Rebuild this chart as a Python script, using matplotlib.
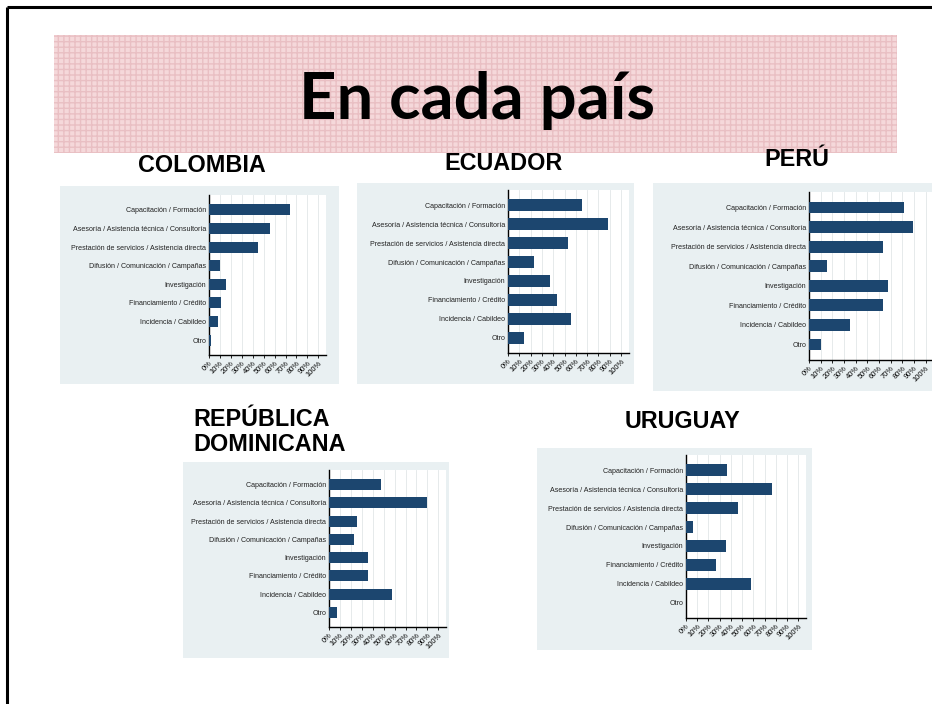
import numpy as np
import matplotlib
matplotlib.use("Agg")
import matplotlib.pyplot as plt
from matplotlib.patches import Rectangle
from matplotlib.ticker import MultipleLocator, FuncFormatter

# categories (top to bottom)
categories = [
    "Capacitación / Formación",
    "Asesoría / Asistencia técnica / Consultoría",
    "Prestación de servicios / Asistencia directa",
    "Difusión / Comunicación / Campañas",
    "Investigación",
    "Financiamiento / Crédito",
    "Incidencia / Cabildeo",
    "Otro",
]

# share of organisations per category, per country
colombia = [0.74, 0.56, 0.45, 0.10, 0.16, 0.11, 0.08, 0.02]
ecuador = [0.65, 0.88, 0.53, 0.23, 0.37, 0.43, 0.56, 0.14]
peru = [0.81, 0.89, 0.63, 0.15, 0.68, 0.63, 0.35, 0.10]
rep_dominicana = [0.48, 0.90, 0.26, 0.23, 0.36, 0.36, 0.58, 0.07]
uruguay = [0.37, 0.77, 0.46, 0.06, 0.36, 0.27, 0.58, 0.0]

country_names = ["COLOMBIA", "ECUADOR", "PERÚ", "REPÚBLICA\nDOMINICANA", "URUGUAY"]
country_values = [colombia, ecuador, peru, rep_dominicana, uruguay]

W, H = 932, 704
BAR = "#1c466f"
PANEL_BG = "#e9f0f2"

# layout in pixels: box (x0, y0, x1, y1), axes (x0, x1, y_top, y_bottom), title (x, y, ha)
layout = [
    ((60, 186, 339, 384), (209, 326, 195, 355), (202, 165, "center")),
    ((357, 183, 634, 384), (508, 629, 190, 353), (503, 163, "center")),
    ((653, 183, 932, 391), (809, 934, 192, 360), (797, 160, "center")),
    ((183, 462, 449, 658), (329, 446, 470, 627), (193, 432, "left")),
    ((537, 448, 812, 650), (686, 806, 455, 618), (683, 421, "center")),
]

fig = plt.figure(figsize=(W / 100, H / 100), dpi=100)

# background layer in pixel coordinates
bg = fig.add_axes([0, 0, 1, 1])
bg.set_xlim(0, W)
bg.set_ylim(H, 0)
bg.axis("off")

# slide frame
bg.plot([7, W + 5], [7, 7], color="black", lw=2.2, solid_capstyle="butt")
bg.plot([7, 7], [7, H + 5], color="black", lw=2.2, solid_capstyle="butt")

# hatched pink title band
bg.add_patch(Rectangle((54, 35), 843, 118, facecolor="#f5d8da", edgecolor="none"))
bg.add_patch(Rectangle((54, 35), 843, 118, facecolor="none", edgecolor="#e9bfc3",
                       hatch="+++", lw=0))
bg.text(477, 100, "En cada país", ha="center", va="center", fontsize=47,
        fontweight="bold", family="Lato", color="black")

for (box, ax_px, title), name, vals in zip(layout, country_names, country_values):
    bx0, by0, bx1, by1 = box
    bg.add_patch(Rectangle((bx0, by0), bx1 - bx0, by1 - by0, facecolor=PANEL_BG,
                           edgecolor="none"))
    tx, ty, ha = title
    bg.text(tx, ty, name, ha=ha, va="center", fontsize=16.8, fontweight="bold",
            family="Liberation Sans", linespacing=1.1)

    ax0, ax1, ay0, ay1 = ax_px
    ax = fig.add_axes([ax0 / W, 1 - ay1 / H, (ax1 - ax0) / W, (ay1 - ay0) / H])
    y = np.arange(len(categories))
    ax.barh(y, vals, height=0.6, color=BAR, zorder=3)
    ax.set_xlim(0, 1.07)
    ax.set_ylim(len(categories) - 0.2, -0.8)
    ax.set_yticks(y)
    ax.set_yticklabels(categories, fontsize=5.1, family="Liberation Sans", color="#222222")
    ax.xaxis.set_major_locator(MultipleLocator(0.1))
    ax.xaxis.set_major_formatter(FuncFormatter(lambda v, p: f"{v * 100:.0f}%"))
    for lab in ax.get_xticklabels():
        lab.set_rotation(45)
        lab.set_ha("right")
        lab.set_rotation_mode("anchor")
        lab.set_fontsize(5.4)
        lab.set_family("Liberation Sans")
    ax.tick_params(axis="x", length=2, width=0.6, pad=1.5)
    ax.tick_params(axis="y", length=0, pad=2)
    ax.grid(axis="x", color="#e2e6e8", lw=0.6, zorder=0)
    ax.set_facecolor("white")
    ax.spines["top"].set_visible(False)
    ax.spines["right"].set_visible(False)
    ax.spines["left"].set_linewidth(1.0)
    ax.spines["bottom"].set_linewidth(1.0)

fig.savefig("out.png", dpi=100)
